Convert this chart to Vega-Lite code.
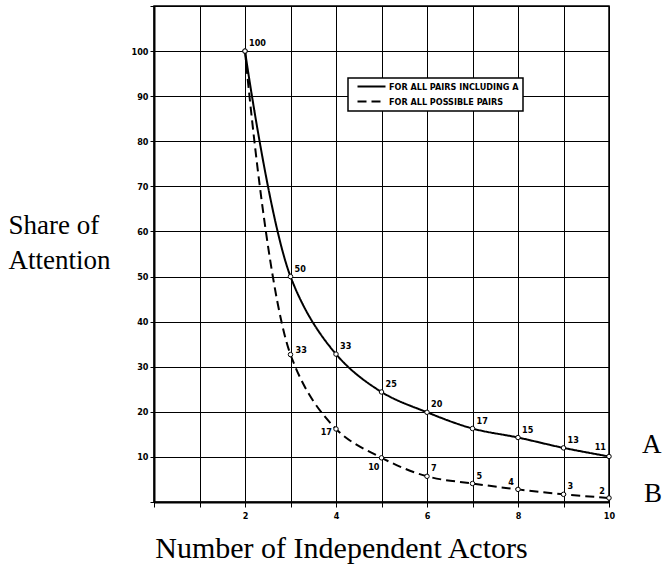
{
  "$schema": "https://vega.github.io/schema/vega-lite/v6.json",
  "width": 455,
  "height": 496,
  "autosize": {"type": "none"},
  "padding": {"left": 154, "top": 6, "right": 54, "bottom": 64},
  "background": "white",
  "data": {
    "values": [
      {"n": 2, "value": 100, "label": "100", "curve": "A", "series": "FOR ALL PAIRS INCLUDING A"},
      {"n": 3, "value": 50, "label": "50", "curve": "A", "series": "FOR ALL PAIRS INCLUDING A"},
      {"n": 4, "value": 32.8, "label": "33", "curve": "A", "series": "FOR ALL PAIRS INCLUDING A"},
      {"n": 5, "value": 24.4, "label": "25", "curve": "A", "series": "FOR ALL PAIRS INCLUDING A"},
      {"n": 6, "value": 19.9, "label": "20", "curve": "A", "series": "FOR ALL PAIRS INCLUDING A"},
      {"n": 7, "value": 16.3, "label": "17", "curve": "A", "series": "FOR ALL PAIRS INCLUDING A"},
      {"n": 8, "value": 14.3, "label": "15", "curve": "A", "series": "FOR ALL PAIRS INCLUDING A"},
      {"n": 9, "value": 12.0, "label": "13", "curve": "A", "series": "FOR ALL PAIRS INCLUDING A"},
      {"n": 10, "value": 10.1, "label": "11", "curve": "A", "series": "FOR ALL PAIRS INCLUDING A"},
      {"n": 2, "value": 100, "label": "", "curve": "B", "series": "FOR ALL POSSIBLE PAIRS"},
      {"n": 3, "value": 32.7, "label": "33", "curve": "B", "series": "FOR ALL POSSIBLE PAIRS"},
      {"n": 4, "value": 16.2, "label": "17", "curve": "B", "series": "FOR ALL POSSIBLE PAIRS"},
      {"n": 5, "value": 9.8, "label": "10", "curve": "B", "series": "FOR ALL POSSIBLE PAIRS"},
      {"n": 6, "value": 5.7, "label": "7", "curve": "B", "series": "FOR ALL POSSIBLE PAIRS"},
      {"n": 7, "value": 4.1, "label": "5", "curve": "B", "series": "FOR ALL POSSIBLE PAIRS"},
      {"n": 8, "value": 2.8, "label": "4", "curve": "B", "series": "FOR ALL POSSIBLE PAIRS"},
      {"n": 9, "value": 1.7, "label": "3", "curve": "B", "series": "FOR ALL POSSIBLE PAIRS"},
      {"n": 10, "value": 0.9, "label": "2", "curve": "B", "series": "FOR ALL POSSIBLE PAIRS"}
    ]
  },
  "config": {
    "view": {"stroke": "black", "strokeWidth": 1.5},
    "legend": {"strokeWidth": 1.5},
    "text": {"font": "Liberation Sans Narrow, DejaVu Sans Condensed, Liberation Sans", "fontSize": 9, "fontWeight": "bold", "color": "black"}
  },
  "layer": [
    {
      "mark": {"type": "line", "interpolate": "catmull-rom", "color": "black", "strokeWidth": 2},
      "encoding": {
        "x": {
          "field": "n", "type": "quantitative",
          "scale": {"domain": [0, 10], "nice": false, "zero": false},
          "axis": {
            "values": [0, 1, 2, 3, 4, 5, 6, 7, 8, 9, 10],
            "labelExpr": "datum.value > 0 && datum.value % 2 == 0 ? datum.label : ''",
            "labelFlush": false, "labelOverlap": false,
            "grid": true, "gridColor": "black", "gridOpacity": 1, "gridWidth": 1,
            "domainColor": "black", "domainWidth": 2,
            "tickColor": "black", "tickSize": 5, "tickWidth": 1,
            "labelFont": "Liberation Sans Narrow, DejaVu Sans Condensed, Liberation Sans",
            "labelFontSize": 9, "labelFontWeight": "bold", "labelColor": "black", "labelPadding": 4,
            "title": "Number of Independent Actors",
            "titleFont": "Liberation Serif", "titleFontSize": 30, "titleFontWeight": "normal", "titleColor": "black",
            "titleX": 187, "titleY": 55, "titleAlign": "center", "titleBaseline": "alphabetic"
          }
        },
        "y": {
          "field": "value", "type": "quantitative",
          "scale": {"domain": [0, 110], "nice": false},
          "axis": {
            "values": [0, 10, 20, 30, 40, 50, 60, 70, 80, 90, 100, 110],
            "labelExpr": "datum.value > 0 && datum.value < 110 ? datum.label : ''",
            "labelFlush": false, "labelOverlap": false,
            "grid": true, "gridColor": "black", "gridOpacity": 1, "gridWidth": 1,
            "domainColor": "black", "domainWidth": 2,
            "tickColor": "black", "tickSize": 4, "tickWidth": 1,
            "labelFont": "Liberation Sans Narrow, DejaVu Sans Condensed, Liberation Sans",
            "labelFontSize": 9, "labelFontWeight": "bold", "labelColor": "black", "labelPadding": 2,
            "title": ["Share of", "Attention"],
            "titleFont": "Liberation Serif", "titleFontSize": 27, "titleFontWeight": "normal", "titleColor": "black",
            "titleAngle": 0, "titleAlign": "left", "titleBaseline": "alphabetic",
            "titleX": -146, "titleY": 227, "titleLineHeight": 35
          }
        },
        "strokeDash": {
          "field": "series", "type": "nominal",
          "scale": {"domain": ["FOR ALL PAIRS INCLUDING A", "FOR ALL POSSIBLE PAIRS"], "range": [[1, 0], [9, 5]]},
          "legend": {
            "orient": "none", "legendX": 194, "legendY": 72, "title": null, "direction": "vertical",
            "fillColor": "white", "strokeColor": "black",
            "symbolType": "M-7,0H7", "symbolSize": 16, "symbolStrokeWidth": 2, "symbolStrokeColor": "black",
            "symbolOffset": 15,
            "labelFont": "Liberation Sans Narrow, DejaVu Sans Condensed, Liberation Sans",
            "labelFontSize": 9, "labelFontWeight": "bold", "labelColor": "black",
            "padding": 4, "rowPadding": 5, "labelOffset": 13
          }
        }
      }
    },
    {
      "mark": {"type": "point", "shape": "circle", "filled": true, "fill": "white", "stroke": "black", "strokeWidth": 1, "size": 20, "opacity": 1},
      "encoding": {
        "x": {"field": "n", "type": "quantitative"},
        "y": {"field": "value", "type": "quantitative"}
      }
    },
    {
      "transform": [{"filter": "datum.curve == 'A' && datum.n <= 9"}],
      "mark": {"type": "text", "align": "left", "baseline": "middle", "dx": 4, "dy": -8},
      "encoding": {"x": {"field": "n", "type": "quantitative"}, "y": {"field": "value", "type": "quantitative"}, "text": {"field": "label"}}
    },
    {
      "transform": [{"filter": "datum.curve == 'A' && datum.n == 10"}],
      "mark": {"type": "text", "align": "right", "baseline": "middle", "dx": -3, "dy": -9},
      "encoding": {"x": {"field": "n", "type": "quantitative"}, "y": {"field": "value", "type": "quantitative"}, "text": {"field": "label"}}
    },
    {
      "transform": [{"filter": "datum.curve == 'B' && datum.n == 3"}],
      "mark": {"type": "text", "align": "left", "baseline": "middle", "dx": 5, "dy": -5},
      "encoding": {"x": {"field": "n", "type": "quantitative"}, "y": {"field": "value", "type": "quantitative"}, "text": {"field": "label"}}
    },
    {
      "transform": [{"filter": "datum.curve == 'B' && datum.n == 4"}],
      "mark": {"type": "text", "align": "right", "baseline": "middle", "dx": -4, "dy": 3},
      "encoding": {"x": {"field": "n", "type": "quantitative"}, "y": {"field": "value", "type": "quantitative"}, "text": {"field": "label"}}
    },
    {
      "transform": [{"filter": "datum.curve == 'B' && datum.n == 5"}],
      "mark": {"type": "text", "align": "right", "baseline": "middle", "dx": -2, "dy": 9},
      "encoding": {"x": {"field": "n", "type": "quantitative"}, "y": {"field": "value", "type": "quantitative"}, "text": {"field": "label"}}
    },
    {
      "transform": [{"filter": "datum.curve == 'B' && (datum.n == 6 || datum.n == 7 || datum.n == 9)"}],
      "mark": {"type": "text", "align": "left", "baseline": "middle", "dx": 4, "dy": -8},
      "encoding": {"x": {"field": "n", "type": "quantitative"}, "y": {"field": "value", "type": "quantitative"}, "text": {"field": "label"}}
    },
    {
      "transform": [{"filter": "datum.curve == 'B' && (datum.n == 8 || datum.n == 10)"}],
      "mark": {"type": "text", "align": "right", "baseline": "middle", "dx": -4, "dy": -7},
      "encoding": {"x": {"field": "n", "type": "quantitative"}, "y": {"field": "value", "type": "quantitative"}, "text": {"field": "label"}}
    },
    {
      "transform": [{"filter": "datum.curve == 'A' && datum.n == 10"}],
      "mark": {"type": "text", "align": "left", "baseline": "alphabetic", "dx": 33, "dy": -3, "font": "Liberation Serif", "fontSize": 27, "fontWeight": "normal"},
      "encoding": {"x": {"field": "n", "type": "quantitative"}, "y": {"field": "value", "type": "quantitative"}, "text": {"field": "curve"}}
    },
    {
      "transform": [{"filter": "datum.curve == 'B' && datum.n == 10"}],
      "mark": {"type": "text", "align": "left", "baseline": "alphabetic", "dx": 35, "dy": 4, "font": "Liberation Serif", "fontSize": 27, "fontWeight": "normal"},
      "encoding": {"x": {"field": "n", "type": "quantitative"}, "y": {"field": "value", "type": "quantitative"}, "text": {"field": "curve"}}
    }
  ]
}
